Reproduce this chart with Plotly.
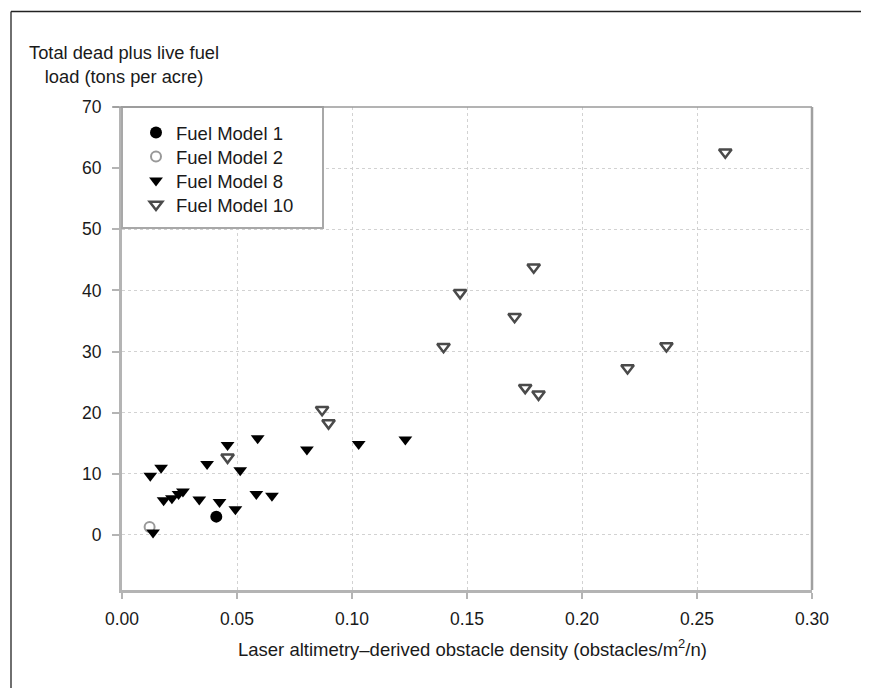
import plotly.graph_objects as go

# ---- data ----
fm1_x = [0.041]
fm1_y = [3.0]

fm2_x = [0.012]
fm2_y = [1.3]

fm8_x = [0.0123, 0.0135, 0.0170, 0.0181, 0.0217, 0.0246, 0.0265, 0.0336, 0.0370,
         0.0424, 0.0459, 0.0493, 0.0514, 0.0584, 0.0590, 0.0652, 0.0804, 0.1029, 0.1232]
fm8_y = [9.7, 0.4, 11.0, 5.7, 6.0, 6.7, 7.1, 5.8, 11.6,
         5.4, 14.7, 4.2, 10.6, 6.7, 15.8, 6.4, 14.0, 14.9, 15.6]

fm10_x = [0.0459, 0.0870, 0.0898, 0.1398, 0.1470, 0.1707, 0.1753, 0.1790, 0.1811,
          0.2198, 0.2367, 0.2623]
fm10_y = [12.7, 20.5, 18.3, 30.8, 39.6, 35.7, 24.1, 43.8, 23.0,
          27.3, 30.9, 62.6]

x_ticks = [0.00, 0.05, 0.10, 0.15, 0.20, 0.25, 0.30]
x_tick_labels = ["0.00", "0.05", "0.10", "0.15", "0.20", "0.25", "0.30"]
y_ticks = [0, 10, 20, 30, 40, 50, 60, 70]
y_tick_labels = ["0", "10", "20", "30", "40", "50", "60", "70"]

series_names = ["Fuel Model 1", "Fuel Model 2", "Fuel Model 8", "Fuel Model 10"]

# ---- layout geometry (screen pixels; page body has an 8px margin) ----
OFF = 8
W, H = 861, 680
SL, SR, ST, SB = 122, 812, 107, 590          # plot area on screen
L, T = SL - OFF, ST - OFF
R, B = W - (SR - OFF), H - (SB - OFF)
PW, PH = W - L - R, H - T - B


def px(xs):
    return (xs - SL) / PW


def py(ys):
    return (SB - ys) / PH


FONT = "Liberation Sans, Arial, Helvetica, sans-serif"
TXT = "#1a1a1a"
AX = "#b4b4b4"

fig = go.Figure()
fig.add_trace(go.Scatter(
    x=fm1_x, y=fm1_y, mode="markers", name=series_names[0], legend="legend",
    marker=dict(symbol="circle", size=12, color="black", line=dict(width=0))))
fig.add_trace(go.Scatter(
    x=fm2_x, y=fm2_y, mode="markers", name=series_names[1], legend="legend2",
    marker=dict(symbol="circle", size=10, color="white", line=dict(width=2, color="#999999"))))
fig.add_trace(go.Scatter(
    x=fm8_x, y=fm8_y, mode="markers", name=series_names[2], legend="legend3",
    marker=dict(symbol="triangle-down", size=12, color="black", line=dict(width=0))))
fig.add_trace(go.Scatter(
    x=fm10_x, y=fm10_y, mode="markers", name=series_names[3], legend="legend4",
    marker=dict(symbol="triangle-down", size=11, color="white", line=dict(width=2.5, color="#4a4a4a"))))

shapes = [
    # legend box
    dict(type="rect", xref="paper", yref="paper", x0=px(122), x1=px(323), y0=py(228), y1=py(107),
         fillcolor="white", line=dict(color="#a8a8a8", width=2), layer="above"),
    # plot frame top / right
    dict(type="line", xref="paper", yref="paper", x0=px(113), x1=1, y0=1, y1=1,
         line=dict(color="#9a9a9a", width=1.5), layer="above"),
    dict(type="line", xref="paper", yref="paper", x0=1, x1=1, y0=0, y1=1,
         line=dict(color="#a0a0a0", width=2.5), layer="above"),
    # outer figure frame (left and top)
    dict(type="line", xref="paper", yref="paper", x0=px(11), x1=px(11), y0=py(H + 20), y1=py(11.5),
         line=dict(color="#222222", width=1.3)),
    dict(type="line", xref="paper", yref="paper", x0=px(11), x1=px(W + 20), y0=py(11.5), y1=py(11.5),
         line=dict(color="#222222", width=1.3)),
]

annotations = [
    dict(text="Total dead plus live fuel<br>load (tons per acre)", xref="paper", yref="paper",
         x=px(124), y=py(64), xanchor="center", yanchor="middle", showarrow=False,
         align="center", font=dict(family=FONT, size=18.3, color=TXT)),
    dict(text="Laser altimetry\u2013derived obstacle density (obstacles/m<sup>2</sup>/n)",
         xref="paper", yref="paper", x=px(473), y=py(648), xanchor="center", yanchor="middle",
         showarrow=False, font=dict(family=FONT, size=18.5, color=TXT)),
]

row_centers = [132, 156, 180, 204]   # screen y of legend rows
legend_names = ["legend", "legend2", "legend3", "legend4"]
legends = {}
for name, yc in zip(legend_names, row_centers):
    legends[name] = dict(x=px(136), y=py(yc - 18), xanchor="left", yanchor="top",
                         xref="paper", yref="paper",
                         bgcolor="rgba(0,0,0,0)", borderwidth=0,
                         font=dict(family=FONT, size=18.5, color=TXT),
                         itemsizing="trace")

fig.update_layout(
    width=W, height=H,
    margin=dict(l=L, r=R, t=T, b=B, pad=0),
    paper_bgcolor="white", plot_bgcolor="white",
    font=dict(family=FONT, size=17, color=TXT),
    showlegend=True,
    shapes=shapes,
    annotations=annotations,
    xaxis=dict(range=[0, 0.30], tickvals=x_ticks, ticktext=x_tick_labels,
               showline=True, linecolor=AX, linewidth=3,
               ticks="outside", ticklen=6, tickwidth=2, tickcolor=AX,
               ticklabelstandoff=5,
               showgrid=True, gridcolor="#d2d2d2", gridwidth=1, griddash="dot",
               zeroline=False, tickfont=dict(family=FONT, size=17.5, color=TXT)),
    yaxis=dict(range=[-9, 70], tickvals=y_ticks, ticktext=y_tick_labels,
               showline=True, linecolor=AX, linewidth=3,
               ticks="outside", ticklen=7, tickwidth=2, tickcolor=AX,
               ticklabelstandoff=7,
               showgrid=True, gridcolor="#d2d2d2", gridwidth=1, griddash="dot",
               zeroline=False, tickfont=dict(family=FONT, size=17.5, color=TXT)),
    **legends,
)

fig.write_html("out.html")
